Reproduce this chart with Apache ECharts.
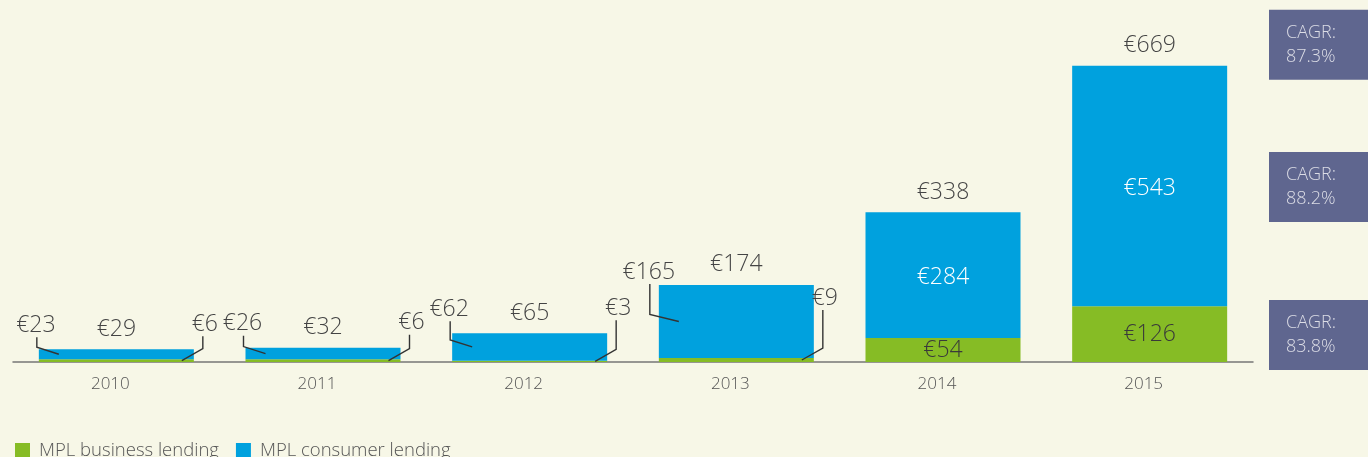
<!DOCTYPE html>
<html>
<head>
<meta charset="utf-8">
<script src="https://cdn.jsdelivr.net/npm/echarts@6/dist/echarts.min.js"></script>
<style>
html, body { margin: 0; padding: 0; background: #f7f7e7; }
#chart { width: 1368px; height: 457px; }
</style>
</head>
<body>
<div id="chart"></div>
<script>
var years = ['2010', '2011', '2012', '2013', '2014', '2015'];
var business = [6, 6, 3, 9, 54, 126];
var consumer = [23, 26, 62, 165, 284, 543];
var totals = [29, 32, 65, 174, 338, 669];
var cagr = ['87.3%', '88.2%', '83.8%']; // total, consumer, business
var seriesNames = ['MPL business lending', 'MPL consumer lending'];

var green = '#86bc25', blue = '#00a1de', ink = '#444444', boxColor = '#5f668f';
var fontName = '"Open Sans", sans-serif';
var insideFrom = 40; // labels go inside the bars once business lending is this large

function txt(x, y, s, color, size, align) {
    return {
        type: 'text', x: x, y: y,
        style: {
            text: s, fill: color || ink, fontSize: size || 22, fontFamily: fontName, fontWeight: 300,
            align: align || 'center', verticalAlign: 'middle', lineHeight: 24
        }
    };
}

function leader(points) {
    return { type: 'polyline', shape: { points: points }, style: { stroke: '#333', lineWidth: 1.4, fill: null } };
}

var chart = echarts.init(document.getElementById('chart'));

var option = {
    backgroundColor: '#f7f7e7',
    animation: false,
    grid: { left: 13, right: 115, top: 52, bottom: 95 },
    legend: {
        left: 10, top: 436, icon: 'rect', itemWidth: 15, itemHeight: 15, itemGap: 17,
        data: seriesNames,
        textStyle: { fontSize: 18.5, color: '#555', fontFamily: fontName, fontWeight: 300, padding: [0, 0, 0, 4] }
    },
    xAxis: {
        type: 'category', data: years,
        axisTick: { show: false },
        axisLine: { lineStyle: { color: '#777', width: 1.5 } },
        axisLabel: { fontSize: 17, color: '#555', margin: 14, fontFamily: fontName, fontWeight: 300, padding: [0, 12, 0, 0] }
    },
    yAxis: { type: 'value', min: 0, max: 700, show: false },
    series: [{
        name: seriesNames[0], type: 'bar', stack: 'all', barWidth: '75%',
        data: business, itemStyle: { color: green },
        label: {
            show: true, position: 'inside', color: '#3a3a3a', fontSize: 23, fontFamily: fontName, fontWeight: 300,
            formatter: function(p) { return business[p.dataIndex] >= insideFrom ? '€' + p.value : ''; }
        }
    }, {
        name: seriesNames[1], type: 'bar', stack: 'all', barWidth: '75%',
        data: consumer, itemStyle: { color: blue },
        label: {
            show: true, position: 'inside', color: '#ffffff', fontSize: 23, fontFamily: fontName, fontWeight: 300,
            offset: [0, 2],
            formatter: function(p) { return business[p.dataIndex] >= insideFrom ? '€' + p.value : ''; }
        }
    }, {
        // totals, leader-line labels for the small bars and the CAGR boxes
        type: 'custom', silent: true, z: 5, clip: false,
        data: years.map(function(y, i) { return [i, business[i], consumer[i], totals[i]]; }),
        renderItem: function(params, api) {
            var i = api.value(0), b = api.value(1), c = api.value(2), t = api.value(3);
            var base = api.coord([i, 0]);
            var half = api.size([1, 0])[0] * 0.375;
            var left = base[0] - half, right = base[0] + half;
            var topY = api.coord([i, t])[1];
            var kids = [txt(base[0], topY - 20, '€' + t, ink, 23)];
            var cMid = api.coord([i, b + c / 2])[1];
            var bMid = api.coord([i, b / 2])[1];
            if (b < insideFrom) {
                var cs = '€' + c, bs = '€' + b;
                var lx = left + 18 - cs.length * 7;
                var ly = Math.max(topY - 24, base[1] - 90);
                kids.push(txt(lx, ly, cs, ink, 23));
                kids.push(leader([[lx + 1, ly + 12], [lx + 1, cMid - 7], [left + 20, cMid]]));
                var rx = right + 5 + bs.length * 3;
                var ry = Math.max(topY - 25, base[1] - 64);
                kids.push(txt(rx, ry, bs, ink, 23));
                kids.push(leader([[rx - 2, ry + 12], [rx - 2, bMid - 12], [right - 12, bMid]]));
            }
            if (params.dataIndex === years.length - 1) {
                var bx = params.coordSys.x + params.coordSys.width + 16;
                [topY - 21, cMid + 1, bMid + 1].forEach(function(cy, k) {
                    kids.push({ type: 'rect', shape: { x: bx, y: cy - 35, width: 110, height: 70 }, style: { fill: boxColor } });
                    kids.push(txt(bx + 17, cy, 'CAGR:\n' + cagr[k], '#dcdde6', 18, 'left'));
                });
            }
            return { type: 'group', children: kids };
        }
    }]
};
chart.setOption(option);
</script>
</body>
</html>
